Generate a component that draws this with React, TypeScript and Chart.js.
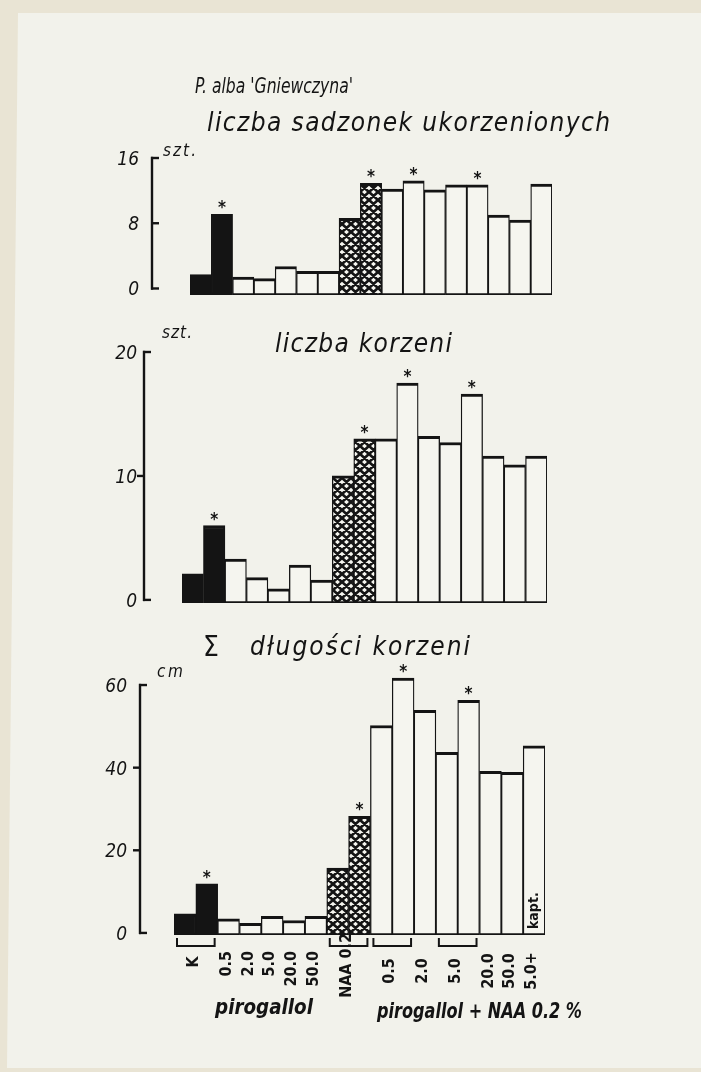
import React, { useEffect, useRef } from 'react';
import { Chart, registerables } from 'chart.js';

Chart.register(...registerables);

// ---------------- DATA ----------------
const categories = [
  'K a', 'K b',
  'pirogallol 0.5', 'pirogallol 2.0', 'pirogallol 5.0', 'pirogallol 20.0', 'pirogallol 50.0',
  'NAA 0.2 a', 'NAA 0.2 b',
  'pirogallol+NAA 0.5 a', 'pirogallol+NAA 0.5 b', 'pirogallol+NAA 2.0',
  'pirogallol+NAA 5.0 a', 'pirogallol+NAA 5.0 b', 'pirogallol+NAA 20.0',
  'pirogallol+NAA 50.0', 'pirogallol+NAA 5.0+kapt.',
];
const treatments = [
  'control', 'control',
  'piro', 'piro', 'piro', 'piro', 'piro',
  'naa', 'naa',
  'mix', 'mix', 'mix', 'mix', 'mix', 'mix', 'mix', 'mix',
];
// liczba sadzonek ukorzenionych (szt.)
const rootedCuttings = [1.7, 9.1, 1.4, 1.2, 2.7, 2.1, 2.1, 8.6, 12.9, 12.2, 13.2, 12.1, 12.7, 12.7, 9.0, 8.4, 12.8];
// liczba korzeni (szt.)
const rootCount = [2.1, 6.0, 3.3, 1.8, 0.9, 2.8, 1.6, 10.0, 13.0, 13.0, 17.5, 13.2, 12.7, 16.6, 11.6, 10.9, 11.6];
// suma długości korzeni (cm)
const rootLength = [4.6, 11.9, 3.4, 2.3, 4.0, 3.0, 4.0, 15.7, 28.2, 50.2, 61.7, 53.9, 43.7, 56.3, 39.1, 38.9, 45.3];
// bars marked with an asterisk
const significantBars = [1, 8, 10, 13];

const ticksRooted = [0, 8, 16];
const ticksRootCount = [0, 10, 20];
const ticksRootLength = [0, 20, 40, 60];

const groupLabels = ['K', '0.5', '2.0', '5.0', '20.0', '50.0', 'NAA 0.2', '0.5', '2.0', '5.0', '20.0', '50.0', '5.0+'];
const groupBars = [[0, 1], [2], [3], [4], [5], [6], [7, 8], [9, 10], [11], [12, 13], [14], [15], [16]];

// ---------------- STYLE ----------------
const INK = '#141414';
const PAPER = '#f2f2eb';
const BAR_WHITE = '#f5f5ef';
const FONT = "'DejaVu Sans Condensed', 'DejaVu Sans', sans-serif";

function makeHatch() {
  const w = 9, h = 8;
  const c = document.createElement('canvas');
  c.width = w; c.height = h;
  const g = c.getContext('2d');
  g.fillStyle = BAR_WHITE;
  g.fillRect(0, 0, w, h);
  g.strokeStyle = INK;
  g.lineWidth = 2.7;
  g.beginPath();
  for (let k = -1; k <= 1; k++) {
    g.moveTo(k * w, 0); g.lineTo(k * w + w, h);
    g.moveTo(k * w + w, 0); g.lineTo(k * w, h);
  }
  g.stroke();
  return g.createPattern(c, 'repeat');
}

function drawFitted(ctx, text, x, y, font, width) {
  ctx.font = font;
  ctx.letterSpacing = '0px';
  ctx.textAlign = 'left';
  ctx.textBaseline = 'alphabetic';
  const w = ctx.measureText(text).width;
  if (!width) { ctx.fillText(text, x, y); return; }
  if (w > width) {
    ctx.fillText(text, x, y, width);
  } else {
    const n = Math.max(1, text.length - 1);
    ctx.letterSpacing = ((width - w) / n).toFixed(2) + 'px';
    ctx.fillText(text, x, y);
    ctx.letterSpacing = '0px';
  }
}

function decorPlugin(d) {
  return {
    id: 'decor',
    afterDatasetsDraw(chart) {
      const ctx = chart.ctx;
      const ys = chart.scales.y;
      const meta = chart.getDatasetMeta(0);
      ctx.save();
      ctx.fillStyle = INK;
      ctx.strokeStyle = INK;
      // axis
      const last = d.ticks[d.ticks.length - 1];
      const top = ys.getPixelForValue(last);
      const bot = ys.getPixelForValue(0);
      ctx.lineWidth = 2.4;
      ctx.beginPath();
      ctx.moveTo(d.axisX, top - 1.2);
      ctx.lineTo(d.axisX, bot + 1.2);
      ctx.stroke();
      d.ticks.forEach((t, i) => {
        const py = ys.getPixelForValue(t);
        const isEnd = i === 0 || i === d.ticks.length - 1;
        ctx.beginPath();
        if (isEnd || d.midTickRight) { ctx.moveTo(d.axisX - 1, py); ctx.lineTo(d.axisX + 7, py); }
        else { ctx.moveTo(d.axisX - 7, py); ctx.lineTo(d.axisX + 1, py); }
        ctx.stroke();
        ctx.font = d.tickFont;
        ctx.letterSpacing = '0px';
        ctx.textAlign = 'right';
        ctx.textBaseline = 'middle';
        ctx.fillText(String(t), d.tickLabelRight, py + 2);
      });
      // texts
      d.texts.forEach((t) => drawFitted(ctx, t.text, t.x, t.y, t.font, t.width));
      // asterisks
      ctx.font = 'bold 17px ' + FONT;
      ctx.letterSpacing = '0px';
      ctx.textAlign = 'center';
      ctx.textBaseline = 'alphabetic';
      significantBars.forEach((i) => {
        const el = meta.data[i];
        ctx.fillText('*', el.x, el.y + d.starDy);
      });
      // category labels
      if (d.labels) {
        const L = d.labels;
        groupBars.forEach((bars, gi) => {
          const first = meta.data[bars[0]];
          const lastEl = meta.data[bars[bars.length - 1]];
          const cx = (first.x + lastEl.x) / 2 - 2;
          if (bars.length > 1) {
            const x1 = first.x - first.width / 2 + 3;
            const x2 = lastEl.x + lastEl.width / 2 - 3;
            ctx.lineWidth = 2;
            ctx.beginPath();
            ctx.moveTo(x1, L.bracketTop);
            ctx.lineTo(x1, L.bracketBottom);
            ctx.lineTo(x2, L.bracketBottom);
            ctx.lineTo(x2, L.bracketTop);
            ctx.stroke();
          }
          const p = L.placement[gi];
          ctx.save();
          ctx.translate(cx, p.y);
          ctx.rotate(-Math.PI / 2);
          ctx.font = L.font;
          ctx.textBaseline = 'middle';
          ctx.textAlign = p.align === 'top' ? 'right' : 'center';
          ctx.fillText(groupLabels[gi], 0, 0);
          ctx.restore();
        });
        // kapt. inside the last bar
        const lb = meta.data[16];
        ctx.save();
        ctx.translate(lb.x, L.kaptY);
        ctx.rotate(-Math.PI / 2);
        ctx.font = L.kaptFont;
        ctx.textBaseline = 'middle';
        ctx.textAlign = 'left';
        ctx.fillText('kapt.', 0, 0);
        ctx.restore();
      }
      ctx.restore();
    },
  };
}

function buildChart(canvas, values, yMin, yMax, padding, decor, hatch) {
  const colors = treatments.map((t) => (t === 'control' ? INK : t === 'naa' ? hatch : BAR_WHITE));
  return new Chart(canvas, {
    type: 'bar',
    data: {
      labels: categories,
      datasets: [{
        data: values,
        backgroundColor: colors,
        borderColor: INK,
        borderWidth: { top: 3, bottom: 2, left: 1.3, right: 1.3 },
        borderSkipped: false,
        categoryPercentage: 1,
        barPercentage: 1,
        base: yMin,
      }],
    },
    options: {
      responsive: false,
      animation: false,
      events: [],
      layout: { padding },
      plugins: { legend: { display: false }, tooltip: { enabled: false }, title: { display: false } },
      scales: {
        x: { display: false },
        y: { display: false, min: yMin, max: yMax },
      },
    },
    plugins: [decorPlugin(decor)],
  });
}

export default function App() {
  const refA = useRef(null);
  const refB = useRef(null);
  const refC = useRef(null);

  useEffect(() => {
    document.body.style.margin = '0';
    const hatch = makeHatch();
    const tickFont = 'italic 19px ' + FONT;
    const titleFont = 'italic 26px ' + FONT;
    const unitFont = 'italic 17px ' + FONT;

    const a = buildChart(refA.current, rootedCuttings, -0.8, 16,
      { left: 190, right: 149, top: 158, bottom: 15 },
      {
        axisX: 152, ticks: ticksRooted, midTickRight: true, tickLabelRight: 139, tickFont, starDy: -1,
        texts: [
          { text: "P. alba 'Gniewczyna'", x: 195, y: 93, font: 'italic 22px ' + FONT, width: 158 },
          { text: 'liczba sadzonek ukorzenionych', x: 207, y: 131, font: titleFont, width: 403 },
          { text: 'szt.', x: 163, y: 156, font: unitFont, width: 33 },
        ],
      }, hatch);

    const b = buildChart(refB.current, rootCount, -0.25, 20,
      { left: 182, right: 154, top: 42, bottom: 17 },
      {
        axisX: 144, ticks: ticksRootCount, midTickRight: false, tickLabelRight: 137, tickFont, starDy: -1,
        texts: [
          { text: 'liczba korzeni', x: 275, y: 42, font: titleFont, width: 177 },
          { text: 'szt.', x: 162, y: 28, font: unitFont, width: 30 },
        ],
      }, hatch);

    const centerY = 351;
    // y max 64 so the tallest bar (61.7) is not clipped; 60 stays at page y 685
    const c = buildChart(refC.current, rootLength, -0.5, 64,
      { left: 174, right: 156, top: 48.5, bottom: 137 },
      {
        axisX: 140, ticks: ticksRootLength, midTickRight: false, tickLabelRight: 127, tickFont, starDy: -1,
        texts: [
          { text: 'Σ', x: 203, y: 36, font: '28px ' + FONT, width: 0 },
          { text: 'długości korzeni', x: 250, y: 35, font: titleFont, width: 220 },
          { text: 'cm', x: 157, y: 57, font: unitFont, width: 26 },
          { text: 'pirogallol', x: 215, y: 394, font: 'bold italic 21px ' + FONT, width: 98 },
          { text: 'pirogallol + NAA 0.2 %', x: 377, y: 398, font: 'bold italic 21px ' + FONT, width: 205 },
        ],
        labels: {
          font: 'bold 16px ' + FONT,
          kaptFont: 'bold 14px ' + FONT,
          kaptY: 309,
          bracketTop: 318,
          bracketBottom: 326,
          placement: [
            { align: 'center', y: 342 },
            { align: 'top', y: 331 }, { align: 'top', y: 331 }, { align: 'top', y: 331 },
            { align: 'top', y: 331 }, { align: 'top', y: 331 },
            { align: 'top', y: 313 },
            { align: 'center', y: centerY }, { align: 'center', y: centerY }, { align: 'center', y: centerY },
            { align: 'center', y: centerY }, { align: 'center', y: centerY }, { align: 'center', y: centerY },
          ],
        },
      }, hatch);

    return () => { a.destroy(); b.destroy(); c.destroy(); };
  }, []);

  const abs = (top, h) => ({ position: 'absolute', left: 0, top, width: 701, height: h, display: 'block' } as any);

  return (
    <div style={{ position: 'relative', width: 701, height: 1072, background: '#e9e4d4', overflow: 'hidden' }}>
      <div style={{
        position: 'absolute', left: 0, top: 0, width: 701, height: 1072, background: PAPER,
        clipPath: 'polygon(18px 13px, 701px 13px, 701px 1068px, 7px 1068px)',
      }} />
      <canvas ref={refA} width={701} height={310} style={abs(0, 310)} />
      <canvas ref={refB} width={701} height={310} style={abs(310, 310)} />
      <canvas ref={refC} width={701} height={452} style={abs(620, 452)} />
    </div>
  );
}
